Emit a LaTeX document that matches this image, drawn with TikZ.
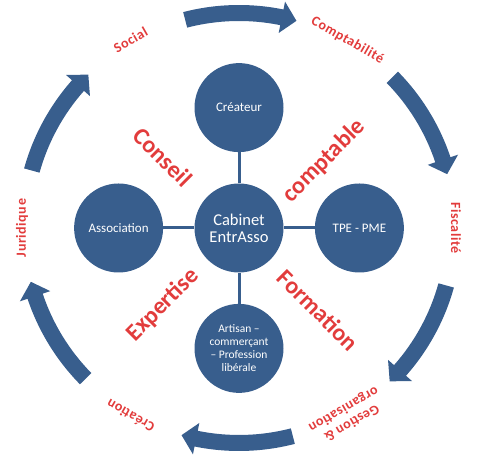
\documentclass[tikz,border=0pt]{standalone}
\usepackage{fontspec}
\setmainfont{Carlito}
\newfontfamily\ringfont[LetterSpace=4]{Carlito}
\usetikzlibrary{positioning,calc}
\definecolor{ringblue}{RGB}{56,94,141}
\definecolor{wordred}{RGB}{226,60,60}
\tikzset{
hub/.style={circle, fill=ringblue, text=white, minimum size=89pt,
    inner sep=1pt, align=center, font=\fontsize{16.5}{17}\selectfont},
client/.style={circle, fill=ringblue, text=white, minimum size=89pt,
    inner sep=1pt, align=center, font=\fontsize{13}{15}\selectfont},
link/.style={draw=ringblue, line width=3pt},
ringlabel/.style={text=wordred, align=center,
    font=\ringfont\bfseries\fontsize{14}{16}\selectfont},
motto/.style={text=wordred, font=\bfseries\fontsize{24}{25}\selectfont},
ring/.style={fill=ringblue}
}
\newcommand{\ringarrow}[1]{
	\fill[ring] (#1+14.5:223) arc[start angle=#1+14.5, end angle=#1-11.5, radius=223]
	-- (#1-11.5:231) -- (#1-15.5:215) -- (#1-11.5:199) -- (#1-11.5:207)
	arc[start angle=#1-11.5, end angle=#1+14.5, radius=207] -- cycle;
}

\begin{document}
\begin{tikzpicture}[x=1pt, y=1pt]
	\useasboundingbox (0,0) rectangle (483,462);
	\node[hub] (cab) at (239,234) {Cabinet\\EntrAsso};
	\node[client, above=31pt of cab] (createur) {Créateur};
	\node[client, left=31pt of cab] (asso) {Association};
	\node[client, right=31pt of cab] (tpe) {TPE - PME};
	\node[client, below=31pt of cab, font=\fontsize{11.5}{13}\selectfont] (artisan)
		{Artisan --\\commerçant\\-- Profession\\libérale};
	\foreach \nm in {createur, asso, tpe, artisan}
		\draw[link] (cab) -- (\nm);

	\node[motto, rotate=-45] (conseil) at ($(cab)+(-76,71)$) {Conseil};
	\node[motto, rotate=45] (comptable) at ($(cab)+(85,67)$) {comptable};
	\node[motto, rotate=45] (expertise) at ($(cab)+(-76,-77)$) {Expertise};
	\node[motto, rotate=-45] (formation) at ($(cab)+(79,-82)$) {Formation};

	\begin{scope}[shift={(cab.center)}]
		\foreach \ca in {90,30,-30,-90,-150,150}
			{\ringarrow{\ca}}
	\end{scope}
	\foreach \ang/\lbl/\nm in {120/Social/social, 60/Comptabilité/compta,
		0/Fiscalité/fisc, -120/Création/creation, 180/Juridique/juri}
		\node[ringlabel, rotate=\ang-90] (\nm) at ($(cab)+(\ang:217)$) {\lbl};
	\node[ringlabel, rotate=-150] (gestion) at ($(cab)+(-60:217)$) {Gestion \&\\organisation};
\end{tikzpicture}
\end{document}
